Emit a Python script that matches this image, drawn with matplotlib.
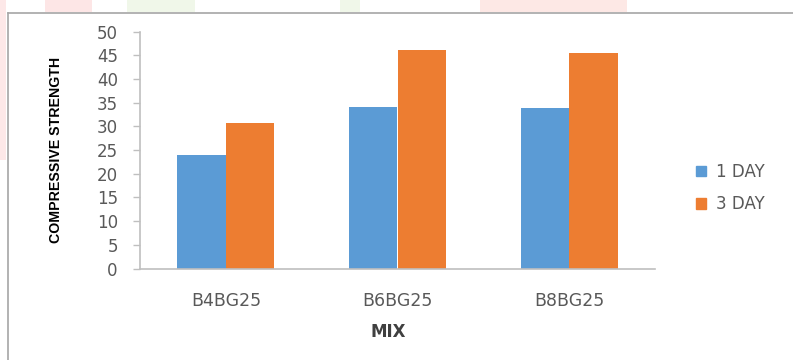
import matplotlib
matplotlib.use("Agg")
import matplotlib.pyplot as plt
from matplotlib.patches import Patch, Rectangle
from matplotlib.lines import Line2D
import numpy as np

categories = ["B4BG25", "B6BG25", "B8BG25"]
series_names = ["1 DAY", "3 DAY"]
day1 = [24.0, 34.0, 33.8]
day3 = [30.7, 46.1, 45.6]
yticks = [0, 5, 10, 15, 20, 25, 30, 35, 40, 45, 50]

BLUE = "#5B9BD5"
ORANGE = "#ED7D31"
TXT = "#595959"
AXC = "#BFBFBF"

fig = plt.figure(figsize=(7.93, 3.60), dpi=100)
fig.patch.set_facecolor("white")

# faint background watermark outside chart box
for (x0, x1, c, h) in [(45, 92, "#FDE6E6", 12), (127, 195, "#F0F7E9", 12), (340, 360, "#F0F7E9", 12),
                       (480, 627, "#FDE8E5", 12), (0, 6, "#FDE8E8", 160)]:
    fig.add_artist(Rectangle((x0 / 793, 1 - h / 360), (x1 - x0) / 793, h / 360,
                             transform=fig.transFigure, color=c, lw=0, zorder=0))

# chart box border
fig.add_artist(Line2D([7.5 / 793, 7.5 / 793], [0, 1 - 12.5 / 360], transform=fig.transFigure,
                      color="#A6A6A6", lw=1.2))
fig.add_artist(Line2D([7.5 / 793, 1], [1 - 12.5 / 360, 1 - 12.5 / 360], transform=fig.transFigure,
                      color="#A6A6A6", lw=1.2))

ax = fig.add_axes([140 / 793, (360 - 268.5) / 360, 515 / 793, (268.5 - 31.7) / 360])
x = np.arange(len(categories))
w = 0.283
ax.bar(x - w / 2, day1, w, color=BLUE, label=series_names[0], zorder=2)
ax.bar(x + w / 2, day3, w, color=ORANGE, label=series_names[1], zorder=2)

ax.set_xlim(-0.5, len(categories) - 0.5)
ax.set_ylim(0, 50)
ax.set_yticks(yticks)
ax.set_xticks(x)
ax.set_xticklabels(categories)

for s in ["top", "right"]:
    ax.spines[s].set_visible(False)
for s in ["left", "bottom"]:
    ax.spines[s].set_color(AXC)
    ax.spines[s].set_linewidth(1.2)

ax.tick_params(axis="y", length=5, width=1, color=AXC, pad=11, labelsize=12, labelcolor=TXT)
ax.tick_params(axis="x", length=0, pad=17, labelsize=12.5, labelcolor=TXT)

ax.set_xlabel("MIX", fontsize=12, fontweight="bold", color="#404040")
ax.xaxis.set_label_coords((388 - 140) / 515, (268.5 - 332) / 236.8)
ax.xaxis.label.set_va("center")

ax.set_ylabel("COMPRESSIVE STRENGTH", fontsize=10.2, fontweight="bold", color="black",
              family=["Liberation Sans", "DejaVu Sans"])
ax.yaxis.set_label_coords((56 - 140) / 515, (268.5 - 150) / 236.8)
ax.yaxis.label.set_va("center")

handles = [Patch(color=BLUE), Patch(color=ORANGE)]
leg = ax.legend(handles, series_names, loc="center left",
                bbox_to_anchor=(696 / 793, (360 - 188) / 360), bbox_transform=fig.transFigure,
                frameon=False, fontsize=12, borderaxespad=0, borderpad=0,
                handlelength=0.6, handleheight=0.6, handletextpad=0.6, labelspacing=0.85)
for t in leg.get_texts():
    t.set_color(TXT)

fig.savefig("out.png", dpi=100)
